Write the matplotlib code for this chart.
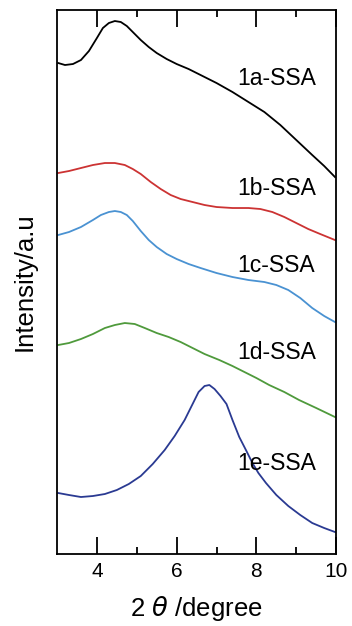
import matplotlib
matplotlib.use("Agg")
import matplotlib.pyplot as plt
import numpy as np

plt.rcParams['font.family'] = ['Liberation Sans', 'DejaVu Sans']

# XRD patterns (intensity in arbitrary units, offset stacked)
x_a = [3.03, 3.2, 3.4, 3.6, 3.8, 4.0, 4.15, 4.3, 4.45, 4.6, 4.75, 4.9, 5.1, 5.3,
       5.5, 5.75, 6.0, 6.3, 6.6, 7.0, 7.4, 7.8, 8.2, 8.6, 9.0, 9.4, 9.7, 9.97]
y_a = [491, 489, 490, 494, 503, 516, 526, 531, 533, 532, 528, 522, 514, 507,
       501, 495, 490, 485, 479, 471, 462, 452, 442, 429, 414, 399, 388, 377]

x_b = [3.03, 3.3, 3.6, 3.9, 4.2, 4.45, 4.7, 4.9, 5.1, 5.35, 5.6, 5.85, 6.1,
       6.4, 6.7, 7.0, 7.4, 7.8, 8.1, 8.4, 8.7, 9.0, 9.3, 9.6, 9.97]
y_b = [381, 383, 386, 389, 391, 391, 389, 385, 380, 372, 365, 359, 355,
       352, 349, 347, 346, 346, 345, 342, 337, 331, 325, 320, 314]

x_c = [3.03, 3.3, 3.6, 3.9, 4.1, 4.3, 4.45, 4.6, 4.75, 4.9, 5.1, 5.3, 5.5,
       5.75, 6.0, 6.3, 6.6, 7.0, 7.4, 7.8, 8.2, 8.5, 8.8, 9.1, 9.4, 9.7, 9.97]
y_c = [319, 322, 327, 334, 339, 342, 343, 342, 339, 333, 323, 314, 307,
       300, 295, 290, 286, 281, 277, 274, 272, 269, 264, 256, 246, 238, 232]

x_d = [3.03, 3.3, 3.6, 3.9, 4.2, 4.45, 4.7, 4.95, 5.2, 5.5, 5.8, 6.1, 6.4,
       6.7, 7.07, 7.4, 7.7, 8.0, 8.32, 8.7, 9.07, 9.5, 9.97]
y_d = [209, 211, 215, 220, 226, 229, 231, 230, 226, 221, 217, 212, 206,
       200, 194, 188, 182, 176, 169, 162, 154, 146, 137]

x_e = [3.03, 3.3, 3.6, 3.9, 4.2, 4.5, 4.8, 5.1, 5.4, 5.7, 5.95, 6.2, 6.4,
       6.55, 6.7, 6.82, 6.95, 7.1, 7.25, 7.4, 7.57, 7.75, 7.9, 8.05, 8.24,
       8.5, 8.8, 9.1, 9.4, 9.7, 9.97]
y_e = [61, 59, 57, 58, 60, 64, 70, 78, 90, 104, 118, 134, 150,
       162, 168, 169, 165, 158, 150, 134, 117, 103, 91, 81, 71,
       59, 48, 39, 31, 26, 22]

labels = ['1a-SSA', '1b-SSA', '1c-SSA', '1d-SSA', '1e-SSA']
label_y = [476, 366, 289, 202, 91]
colors = ['black', '#cc3333', '#4a92d2', '#4f9a3c', '#2a3a92']

fig = plt.figure(figsize=(3.52, 6.26), dpi=100)
ax = fig.add_axes([0.162, 0.115, 0.793, 0.869])

series = [(x_a, y_a), (x_b, y_b), (x_c, y_c), (x_d, y_d), (x_e, y_e)]
for (xs, ys), c in zip(series, colors):
    ax.plot(xs, ys, color=c, lw=1.3)

for lab, ly in zip(labels, label_y):
    ax.text(7.52, ly, lab, fontsize=16.5, va='center', ha='left')

ax.set_xlim(3, 10)
ax.set_ylim(0, 544)
ax.set_xticks([4, 6, 8, 10])
ax.set_xticks([5, 7, 9], minor=True)
ax.set_yticks([])
ax.tick_params(axis='x', which='major', direction='in', top=True,
               length=12, width=1.3, labelsize=15, pad=6)
ax.tick_params(axis='x', which='minor', direction='in', top=True,
               length=5, width=1.3)
for s in ax.spines.values():
    s.set_linewidth(1.3)

ax.set_xlabel(r'2 $\theta$ /degree', fontsize=18.5, labelpad=9)
ax.set_ylabel('Intensity/a.u', fontsize=18.5, labelpad=15)

fig.savefig('out.png', dpi=100)
